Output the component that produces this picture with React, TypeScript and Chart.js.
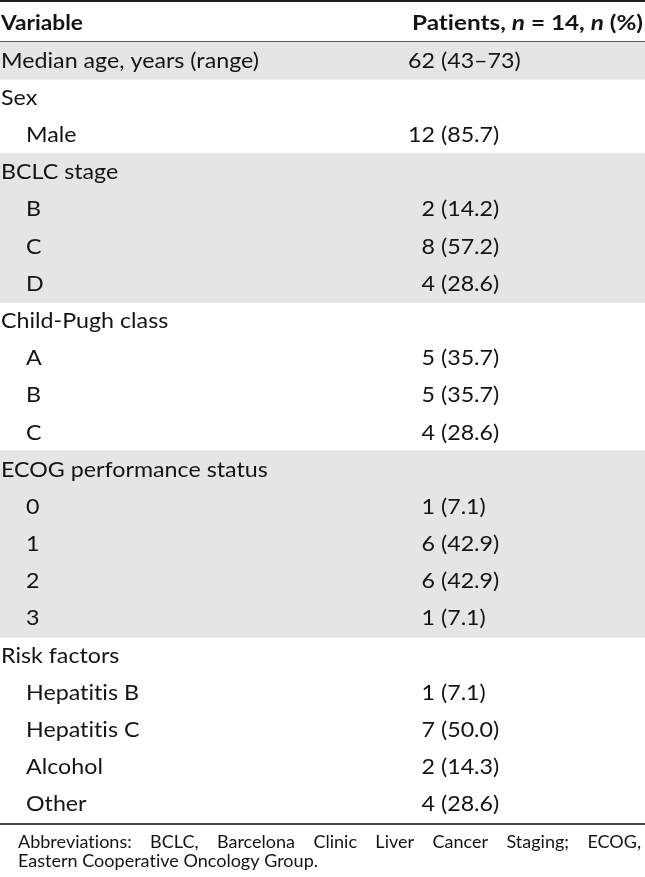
import React, { useEffect, useRef } from "react";
import { Chart, registerables } from "chart.js";

Chart.register(...registerables);

// ---------- data ----------
const headerLeft = "Variable";
const headerRightParts: [string, boolean][] = [
  ["Patients, ", false],
  ["n", true],
  [" = 14, ", false],
  ["n", true],
  [" (%)", false],
];

const rowLabels = [
  "Median age, years (range)",
  "Sex",
  "Male",
  "BCLC stage",
  "B",
  "C",
  "D",
  "Child-Pugh class",
  "A",
  "B",
  "C",
  "ECOG performance status",
  "0",
  "1",
  "2",
  "3",
  "Risk factors",
  "Hepatitis B",
  "Hepatitis C",
  "Alcohol",
  "Other",
];
const rowIndent = [0, 0, 1, 0, 1, 1, 1, 0, 1, 1, 1, 0, 1, 1, 1, 1, 0, 1, 1, 1, 1];
const counts: (number | null)[] = [62, null, 12, null, 2, 8, 4, null, 5, 5, 4, null, 1, 6, 6, 1, null, 1, 7, 2, 4];
const percents: (number | null)[] = [null, null, 85.7, null, 14.2, 57.2, 28.6, null, 35.7, 35.7, 28.6, null, 7.1, 42.9, 42.9, 7.1, null, 7.1, 50.0, 14.3, 28.6];
const ageRange = [43, 73];
const shadedRows = [1, 0, 0, 1, 1, 1, 1, 0, 0, 0, 0, 1, 1, 1, 1, 1, 0, 0, 0, 0, 0];
const footnoteLines = [
  "Abbreviations: BCLC, Barcelona Clinic Liver Cancer Staging; ECOG,",
  "Eastern Cooperative Oncology Group.",
];

// ---------- style ----------
const FAMILY = "Lato, 'Open Sans', 'DejaVu Sans', sans-serif";
const TEXT = "#141414";
const SHADE = "#e5e5e5";
const WIDTH = 645;
const HEIGHT = 877;

type Fit = { size: number; sx: number; font: string };

function prep(ctx: CanvasRenderingContext2D) {
  try {
    (ctx as any).textRendering = "optimizeSpeed";
  } catch (e) {}
}

function fitFont(ctx: CanvasRenderingContext2D, style: string, text: string, cap: number, width: number): Fit {
  ctx.font = `${style} 100px ${FAMILY}`;
  const c = ctx.measureText("H").actualBoundingBoxAscent;
  const size = (100 * cap) / c;
  ctx.font = `${style} ${size}px ${FAMILY}`;
  const w = ctx.measureText(text).width;
  return { size, sx: width / w, font: `${style} ${size}px ${FAMILY}` };
}

function draw(ctx: CanvasRenderingContext2D, f: Fit, text: string, x: number, y: number, align: "left" | "right" = "left") {
  ctx.save();
  ctx.font = f.font;
  prep(ctx);
  ctx.textAlign = align;
  ctx.translate(x, y);
  ctx.scale(f.sx, 1);
  ctx.fillText(text, 0, 0);
  ctx.restore();
}

function widthOf(ctx: CanvasRenderingContext2D, f: Fit, text: string) {
  ctx.font = f.font;
  return ctx.measureText(text).width * f.sx;
}

const tablePlugin = {
  id: "tableText",
  afterDatasetsDraw(chart: any) {
    const { ctx, chartArea } = chart;
    const xs = chart.scales.x;
    const ys = chart.scales.y;
    ctx.save();
    prep(ctx);
    ctx.fillStyle = TEXT;
    ctx.textBaseline = "alphabetic";

    // body rows
    const bodyCap = 15;
    const body = fitFont(ctx, "400", rowLabels[0], bodyCap, 258);
    const spaceW = widthOf(ctx, body, " ");
    const countAnchor = xs.getPixelForValue(435);
    rowLabels.forEach((label, i) => {
      const yc = ys.getPixelForValue(i);
      const base = Math.round(yc + bodyCap / 2 - 0.5);
      draw(ctx, body, label, xs.getPixelForValue(rowIndent[i] ? 26 : 1), base);
      const c = counts[i];
      if (c !== null) {
        const rest = i === 0 ? `(${ageRange[0]}–${ageRange[1]})` : `(${(percents[i] as number).toFixed(1)})`;
        draw(ctx, body, String(c), countAnchor, base, "right");
        draw(ctx, body, rest, countAnchor + spaceW, base);
      }
    });

    // header
    const headCap = 15.5;
    const head = fitFont(ctx, "700", headerLeft, headCap, 82);
    const hBase = Math.round(chartArea.top / 2 + headCap / 2 + 1);
    draw(ctx, head, headerLeft, 1, hBase);
    const rh: Fit = { ...head };
    let total = 0;
    headerRightParts.forEach(([t, it]) => {
      total += widthOf(ctx, it ? { ...head, font: `italic ${head.font}` } : head, t);
    });
    rh.sx = head.sx * (231 / total);
    const rhIt = { ...rh, font: `italic ${rh.font}` };
    let hx = 643 - 231;
    headerRightParts.forEach(([t, it]) => {
      const f = it ? rhIt : rh;
      draw(ctx, f, t, hx, hBase);
      hx += widthOf(ctx, f, t);
    });

    // rules
    ctx.fillStyle = "#1e1e1e";
    ctx.fillRect(0, 0, chart.width, 2);
    ctx.fillStyle = "#5a5a5a";
    ctx.fillRect(0, chartArea.top - 1, chart.width, 1);
    ctx.fillStyle = "#4a4a4a";
    ctx.fillRect(0, chartArea.bottom, chart.width, 2);

    // footnote
    ctx.fillStyle = TEXT;
    const footCap = 13;
    const foot = fitFont(ctx, "400", footnoteLines[1], footCap, 300);
    const fx0 = 18;
    const fx1 = 641;
    const words = footnoteLines[0].split(" ");
    const ww = words.map((w) => widthOf(ctx, foot, w));
    const sum = ww.reduce((a, b) => a + b, 0);
    const gap = (fx1 - fx0 - sum) / (words.length - 1);
    let fx = fx0;
    const l1 = chartArea.bottom + 25;
    words.forEach((w, k) => {
      draw(ctx, foot, w, fx, l1);
      fx += ww[k] + gap;
    });
    draw(ctx, foot, footnoteLines[1], fx0, l1 + 19);

    ctx.restore();
  },
};

export default function App() {
  const ref = useRef<HTMLCanvasElement | null>(null);
  useEffect(() => {
    document.body.style.margin = "0";
    document.body.style.background = "#ffffff";
    const canvas = ref.current;
    if (!canvas) return;
    const chart = new Chart(canvas, {
      type: "bar",
      data: {
        labels: rowLabels,
        datasets: [
          {
            data: shadedRows.map((s) => (s ? [0, WIDTH] : null)) as any,
            backgroundColor: SHADE,
            borderWidth: 0,
            categoryPercentage: 1,
            barPercentage: 1,
            inflateAmount: 0.5,
          } as any,
        ],
      },
      options: {
        indexAxis: "y",
        animation: false,
        responsive: false,
        devicePixelRatio: 1,
        layout: { padding: { top: 42, bottom: HEIGHT - 823, left: 0, right: 0 } },
        plugins: { legend: { display: false }, tooltip: { enabled: false } },
        scales: {
          x: { type: "linear", min: 0, max: WIDTH, display: false },
          y: { type: "category", display: false, offset: true, grid: { display: false } },
        },
      },
      plugins: [tablePlugin],
    });
    return () => chart.destroy();
  }, []);
  return <canvas ref={ref} width={WIDTH} height={HEIGHT} style={{ display: "block" }} />;
}
